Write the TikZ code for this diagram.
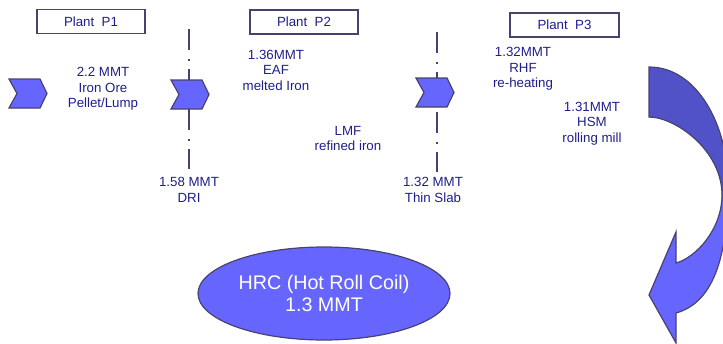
\documentclass[tikz,border=0pt]{standalone}
\usepackage{fontspec}
\setmainfont{Liberation Sans}
\usetikzlibrary{shapes.geometric}
\definecolor{txt}{RGB}{30,30,140}
\definecolor{edge}{RGB}{72,66,112}
\definecolor{fillA}{RGB}{102,102,255}
\definecolor{fillB}{RGB}{82,82,200}
\begin{document}
\begin{tikzpicture}[x=1pt,y=-1pt,
  lbl/.style={text=txt, font=\fontsize{13.3}{15.5}\selectfont, align=center, inner sep=0pt},
  plant/.style={draw=edge, line width=1.6pt, fill=white, minimum width=108pt, minimum height=24pt, inner sep=0pt, text=txt, font=\fontsize{13.3}{15.5}\selectfont},
  chev/.style={draw=edge, line width=1.2pt, fill=fillA, line join=miter},
  divider/.style={draw=edge, line width=2.5pt, dash pattern=on 21pt off 8.5pt on 2.5pt off 8pt},
  arrowline/.style={draw=edge, line width=1.2pt, line join=miter},
  chevron/.pic={\path[chev] (-19,-14.5) -- (12,-14.5) -- (19,0) -- (12,14.5) -- (-19,14.5) -- (-11,0) -- cycle;}
]
\useasboundingbox (0,0) rectangle (723,343);

% plant boxes
\node[plant] (p1) at (91,21.5) {Plant\ \ P1};
\node[plant] (p2) at (304,22) {Plant\ \ P2};
\node[plant, minimum width=109pt] (p3) at (564.5,25) {Plant\ \ P3};

% dividers
\coordinate (d1a) at (189,29);
\coordinate (d1b) at (189,169);
\coordinate (d2a) at (437,32);
\coordinate (d2b) at (437,172);
\draw[divider] (d1a) -- (d1b);
\draw[divider] (d2a) -- (d2b);

% chevrons
\pic at (28,93.5) {chevron};
\pic at (190,94.5) {chevron};
\pic at (435,92.5) {chevron};

% labels
\node[lbl] (t1) at (103,89) {2.2 MMT\\Iron Ore\\Pellet/Lump};
\node[lbl] (t2) at (276,70) {1.36MMT\\EAF\\melted Iron};
\node[lbl] (t3) at (348,138.5) {LMF\\refined iron};
\node[lbl] (t4) at (189,190) {1.58 MMT\\DRI};
\node[lbl] (t5) at (433,190) {1.32 MMT\\Thin Slab};
\node[lbl] (t6) at (523,69) {1.32MMT\\RHF\\re-heating};
\node[lbl] (t7) at (592,123.5) {1.31MMT\\HSM\\rolling mill};

% curved arrow
\begin{scope}
  \clip (0,0) rectangle (723,343);
  \fill[fillA] (649,67) .. controls (697,67) and (728,125) .. (728,185)
    .. controls (728,260) and (712,303) .. (676,313) -- (676,343) -- (649,295)
    -- (676,232) -- (676,263) .. controls (695,258) and (722,230) .. (722,195)
    .. controls (722,150) and (675,117) .. (649,117) -- cycle;
  \begin{scope}
    \clip (600,0) rectangle (740,198);
    \fill[fillB] (649,67) .. controls (697,67) and (728,125) .. (728,185)
      .. controls (728,260) and (712,303) .. (676,313) -- (676,343) -- (649,295)
      -- (676,232) -- (676,263) .. controls (695,258) and (722,230) .. (722,195)
      .. controls (722,150) and (675,117) .. (649,117) -- cycle;
  \end{scope}
  \path[arrowline] (649,67) .. controls (697,67) and (728,125) .. (728,185)
    .. controls (728,260) and (712,303) .. (676,313) -- (676,343) -- (649,295)
    -- (676,232) -- (676,263) .. controls (695,258) and (722,230) .. (722,195)
    .. controls (722,150) and (675,117) .. (649,117) -- cycle;
\end{scope}

% result ellipse
\node[ellipse, draw=edge, line width=1.2pt, fill=fillA, minimum width=252pt, minimum height=93pt, inner sep=0pt,
  text=white, font=\fontsize{19.7}{22}\selectfont, align=center] (hrc) at (324,293.5) {HRC (Hot Roll Coil)\\1.3 MMT};
\end{tikzpicture}
\end{document}
